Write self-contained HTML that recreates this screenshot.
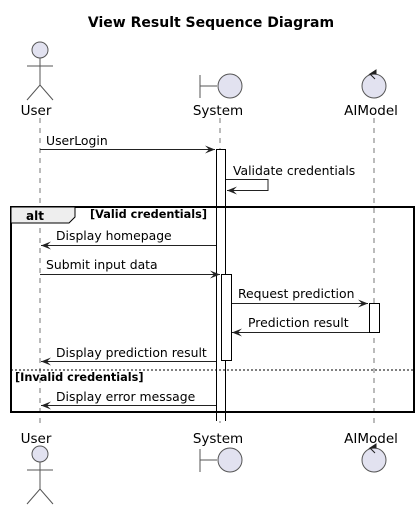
<!DOCTYPE html>
<html><head><style>body{margin:0;background:#fff}svg{display:block}text{font-family:"DejaVu Sans","Liberation Sans",sans-serif;fill:#000}</style></head>
<body>
<svg width="420" height="510" viewBox="0 0 420 510" xmlns="http://www.w3.org/2000/svg">
<defs><marker id="a" viewBox="0 0 10 10" refX="10" refY="5" markerWidth="10" markerHeight="10" markerUnits="userSpaceOnUse" orient="auto"><path d="M0,1 L10,5 L0,9 L4,5 Z" fill="#222"/></marker></defs>
<text x="211" y="27" font-size="14" font-weight="bold" text-anchor="middle">View Result Sequence Diagram</text>
<g stroke="#777" stroke-dasharray="5,5" stroke-width="1">
<line x1="40" y1="118" x2="40" y2="428"/><line x1="220" y1="118" x2="220" y2="428"/><line x1="374" y1="118" x2="374" y2="428"/></g>
<g stroke="#555" fill="#e2e2f0" stroke-width="1">
<circle cx="40" cy="50" r="8"/><line x1="40" y1="58" x2="40" y2="85"/><line x1="27" y1="66" x2="53" y2="66"/><path d="M27,100 L40,85 L53,100" fill="none"/>
<line x1="200" y1="75" x2="200" y2="98"/><line x1="200" y1="86" x2="217" y2="86"/><circle cx="230" cy="86" r="12"/>
<circle cx="374" cy="86" r="12"/>
<line x1="200" y1="449" x2="200" y2="472"/><line x1="200" y1="460" x2="217" y2="460"/><circle cx="230" cy="460" r="12"/>
<circle cx="374" cy="460" r="12"/>
<circle cx="40" cy="454" r="8"/><line x1="40" y1="462" x2="40" y2="489"/><line x1="27" y1="470" x2="53" y2="470"/><path d="M27,504 L40,489 L53,504" fill="none"/>
</g>
<path d="M376,74 L370,74 L376,70 Z M370,74 L375,79" fill="#222" stroke="#222"/>
<path d="M376,448 L370,448 L376,444 Z M370,448 L375,453" fill="#222" stroke="#222"/>
<g font-size="13.5" text-anchor="middle"><text x="36" y="115">User</text><text x="218" y="115">System</text><text x="371" y="115">AIModel</text>
<text x="36" y="443">User</text><text x="218" y="443">System</text><text x="371" y="443">AIModel</text></g>
<g fill="#fff" stroke="#000"><path d="M216.5,421 L216.5,149.5 L225.5,149.5 L225.5,421"/><rect x="221.5" y="274.5" width="10" height="86"/><rect x="369.5" y="303.5" width="10" height="29"/></g>
<rect x="11" y="207" width="403" height="205" fill="none" stroke="#000" stroke-width="2"/>
<path d="M11,207 L75,207 L75,217 L69,223 L11,223 Z" fill="#eee" stroke="#000"/>
<text x="26" y="220" font-size="12" font-weight="bold">alt</text>
<text x="90" y="218" font-size="11.3" font-weight="bold">[Valid credentials]</text>
<line x1="11" y1="370" x2="414" y2="370" stroke="#000" stroke-dasharray="2,2"/>
<text x="15" y="381" font-size="11.3" font-weight="bold">[Invalid credentials]</text>
<g stroke="#222" fill="none" marker-end="url(#a)">
<line x1="40" y1="149.5" x2="215" y2="149.5"/>
<path d="M226,179.5 L268,179.5 L268,190.5 L227,190.5"/>
<line x1="216" y1="245.5" x2="41" y2="245.5"/>
<line x1="40" y1="274.5" x2="220" y2="274.5"/>
<line x1="232" y1="303.5" x2="368" y2="303.5"/>
<line x1="369" y1="332.5" x2="232" y2="332.5"/>
<line x1="216" y1="361.5" x2="41" y2="361.5"/>
<line x1="216" y1="405.5" x2="41" y2="405.5"/>
</g>
<g font-size="12.4">
<text x="46" y="145">UserLogin</text>
<text x="233" y="175">Validate credentials</text>
<text x="56" y="240">Display homepage</text>
<text x="46" y="269">Submit input data</text>
<text x="238" y="298">Request prediction</text>
<text x="248" y="327">Prediction result</text>
<text x="56" y="357">Display prediction result</text>
<text x="56" y="401">Display error message</text>
</g>
</svg>
</body></html>
